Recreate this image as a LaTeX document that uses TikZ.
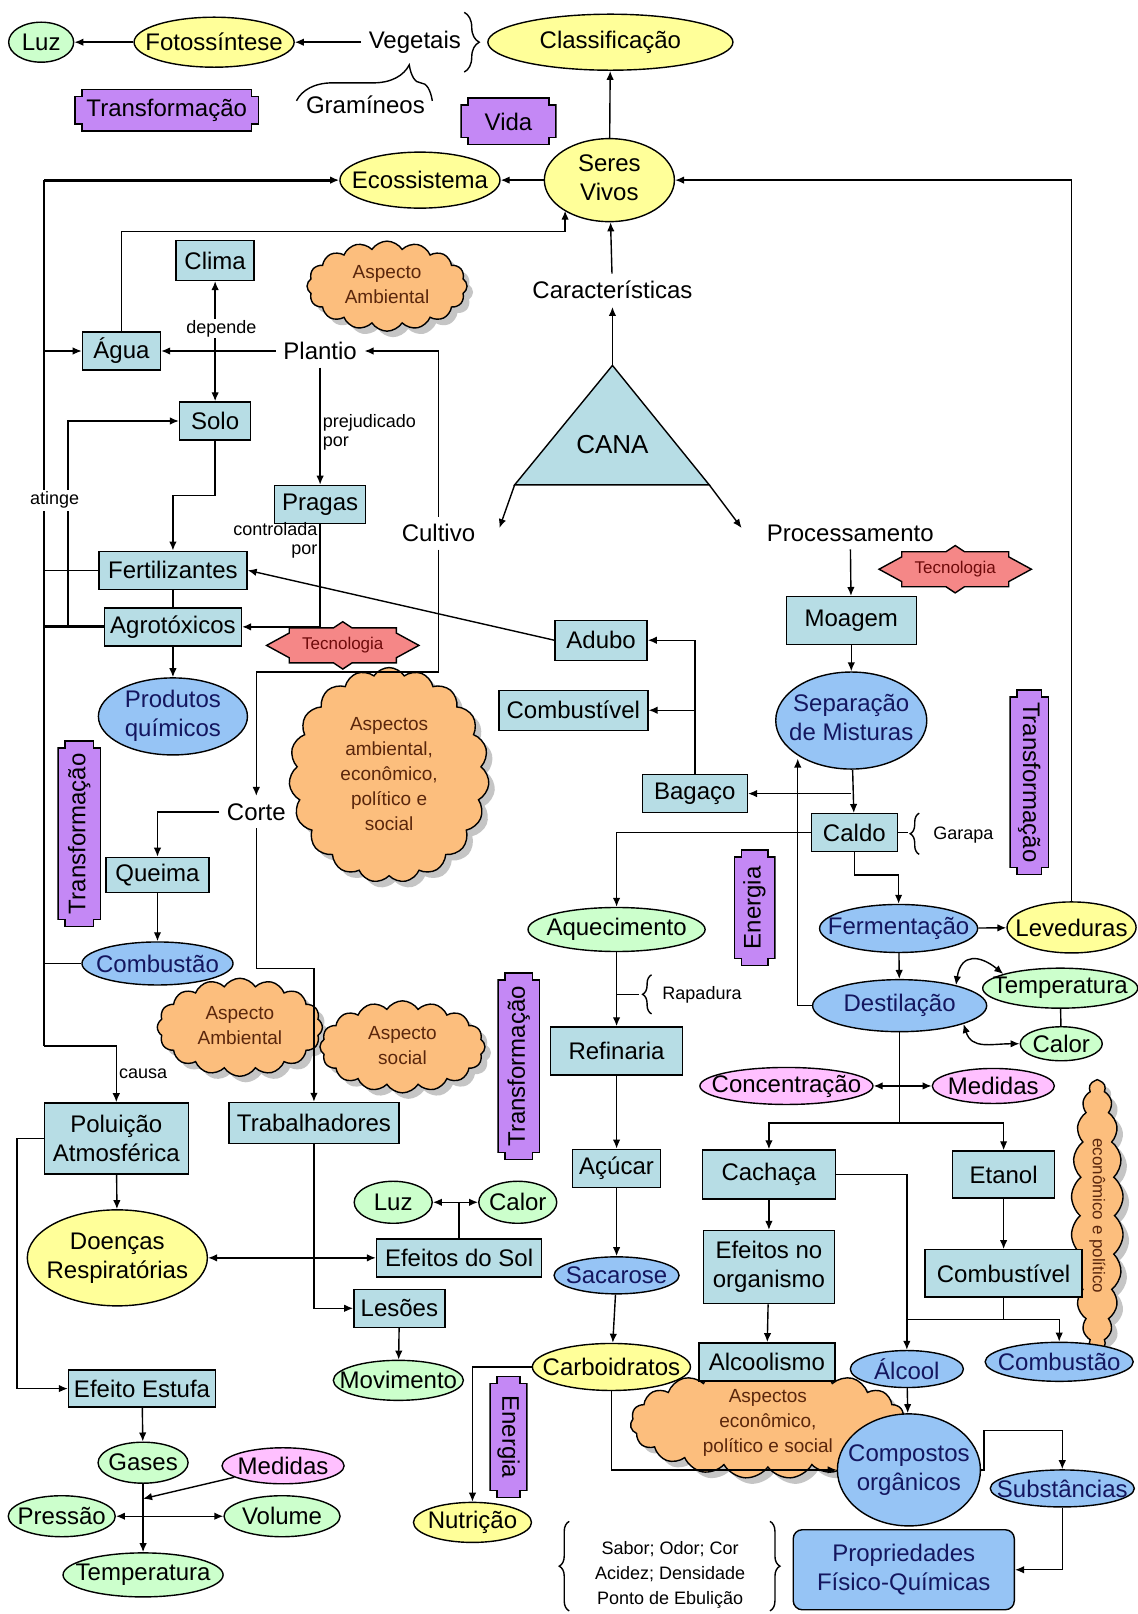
\documentclass[tikz,border=0pt]{standalone}
\usepackage{fontspec}
\usepackage{graphicx}
\setmainfont{Liberation Sans}
\usetikzlibrary{shapes.geometric, shapes.symbols, shadows, arrows.meta, decorations.pathreplacing, calc}

\definecolor{azulcx}{RGB}{183,221,229}
\definecolor{amar}{RGB}{255,255,153}
\definecolor{verd}{RGB}{204,255,204}
\definecolor{azul}{RGB}{150,196,245}
\definecolor{rosa}{RGB}{255,192,255}
\definecolor{roxo}{RGB}{196,136,245}
\definecolor{salmao}{RGB}{245,135,135}
\definecolor{laranja}{RGB}{252,190,125}
\definecolor{marrom}{RGB}{90,38,12}
\definecolor{navy}{RGB}{20,22,95}
\definecolor{vinho}{RGB}{110,10,10}

% texto sem tamanho (a forma usa so minimum width/height)
\newcommand{\zr}[1]{\hbox to 0pt{\hss\vbox to 0pt{\vss\hbox{#1}\vss}\hss}}
\newcommand{\linhas}[1]{\begin{tabular}{@{}c@{}}#1\end{tabular}}
\newcommand{\tecno}[2]{%
  \filldraw[fill=salmao, shift={#2}] (-74,0) -- (-52,-12) -- (-52,-17) -- (-9,-17) -- (0,-23) -- (9,-17) -- (52,-17) -- (52,-12) -- (74,0) -- (52,12) -- (52,17) -- (9,17) -- (0,23) -- (-9,17) -- (-52,17) -- (-52,12) -- cycle;
  \node[tectexto] (#1) at #2 {Tecnologia};}

\begin{document}
\begin{tikzpicture}[x=1.029pt, y=-1.029pt, line width=1.4pt,
  >={Latex[length=9pt,width=7.5pt]},
  every node/.style={font=\fontsize{24}{29}\selectfont},
  caixa/.style={rectangle, draw, fill=azulcx, minimum height=38pt, inner xsep=4pt},
  oval/.style={ellipse, draw, inner sep=0pt},
  ovam/.style={oval, fill=amar},
  ovve/.style={oval, fill=verd},
  ovaz/.style={oval, fill=azul, text=navy},
  ovro/.style={oval, fill=rosa},
  palavra/.style={inner sep=7pt},
  rotulo/.style={font=\fontsize{18}{19}\selectfont, inner sep=2pt},
  tectexto/.style={font=\fontsize{17}{19}\selectfont, text=vinho, inner sep=1pt},
  chave/.style={decorate, decoration={brace, amplitude=#1}},
  chave/.default=9pt,
  nuvem/.style={cloud, cloud puffs=16, cloud puff arc=115, cloud ignores aspect, draw, fill=laranja, inner sep=0pt,
    text=marrom, font=\fontsize{19}{25}\selectfont,
    drop shadow={shadow xshift=6pt, shadow yshift=-6pt, fill=black!45}},
  placa/.style={rectangle, inner sep=0pt, path picture={
    \path (path picture bounding box.south west) coordinate (pa) (path picture bounding box.north east) coordinate (pb);
    \filldraw[fill=roxo] let \p1=(pa), \p2=(pb) in
      (\x1+7.7pt,\y1+.7pt) -- (\x2-7.7pt,\y1+.7pt) -- (\x2-7.7pt,\y1+7.7pt) -- (\x2-.7pt,\y1+7.7pt)
      -- (\x2-.7pt,\y2-7.7pt) -- (\x2-7.7pt,\y2-7.7pt) -- (\x2-7.7pt,\y2-.7pt) -- (\x1+7.7pt,\y2-.7pt)
      -- (\x1+7.7pt,\y2-7.7pt) -- (\x1+.7pt,\y2-7.7pt) -- (\x1+.7pt,\y1+7.7pt) -- (\x1+7.7pt,\y1+7.7pt) -- cycle;}}]

\useasboundingbox (0,0) rectangle (1105,1568);
\fill[white] (0,0) rectangle (1105,1568);

% nuvens (atras das linhas)
\node[nuvem, minimum width=160pt, minimum height=90pt] (nuv1) at (376,278) {\zr{\linhas{Aspecto\\Ambiental}}};
\node[nuvem, cloud puffs=19, minimum width=200pt, minimum height=215pt] (nuv2) at (378,753) {\zr{\linhas{Aspectos\\ambiental,\\econômico,\\político e\\social}}};
\node[nuvem, minimum width=165pt, minimum height=98pt] (nuv3) at (233,998) {\zr{\linhas{Aspecto\\Ambiental}}};
\node[nuvem, minimum width=165pt, minimum height=92pt] (nuv4) at (391,1017) {\zr{\linhas{Aspecto\\social}}};
\node[nuvem, cloud puffs=19, minimum width=275pt, minimum height=112pt] (nuv5) at (746,1382) {\zr{\linhas{Aspectos\\econômico,\\político e social}}};
\node[nuvem, cloud puffs=22, cloud puff arc=100, minimum width=52pt, minimum height=272pt, font=\fontsize{17}{20}\selectfont] (nuv6) at (1066,1181) {\zr{\rotatebox{-90}{econômico e político}}};

% CANA
\coordinate (apex) at (595,355);
\coordinate (bl) at (500,471);
\coordinate (br) at (689,471);
\filldraw[fill=azulcx] (apex) -- (br) -- (bl) -- cycle;
\node[font=\fontsize{26}{30}\selectfont] (cana) at (595,432) {CANA};

% topo
\node[ovve, minimum width=65pt, minimum height=40pt] (luz1) at (40,41) {\zr{Luz}};
\node[ovam, minimum width=160pt, minimum height=50pt] (fotos) at (208,41) {\zr{Fotossíntese}};
\node[palavra] (veget) at (403,41) {Vegetais};
\node[ovam, minimum width=245pt, minimum height=56pt] (classif) at (593,41) {\zr{Classificação}};
\node[inner sep=2pt] (gram) at (355,102) {Gramíneos};
\node[placa, minimum width=185pt, minimum height=43pt] (transf1) at (162,107) {Transformação};
\node[placa, minimum width=96pt, minimum height=48pt] (vida) at (494,118) {Vida};
\node[ovam, minimum width=160pt, minimum height=56pt] (ecos) at (408,175) {\zr{Ecossistema}};
\node[ovam, minimum width=130pt, minimum height=83pt] (seres) at (592,175) {\zr{\linhas{Seres\\Vivos}}};
\node[palavra] (caract) at (595,282) {Características};

% cultivo
\node[caixa, minimum width=78pt, minimum height=40pt] (clima) at (209,253) {Clima};
\node[caixa, minimum width=78pt] (agua) at (118,341) {Água};
\node[palavra] (plantio) at (311,341) {Plantio};
\node[caixa, minimum width=71pt] (solo) at (209,409) {Solo};
\node[caixa, minimum width=91pt] (pragas) at (311,490) {Pragas};
\node[caixa, minimum width=148pt] (fert) at (168,554) {Fertilizantes};
\node[caixa, minimum width=137pt] (agro) at (168,609) {Agrotóxicos};
\tecno{tec1}{(333,627)}
\node[ovaz, minimum width=149pt, minimum height=77pt] (prod) at (168,696) {\zr{\linhas{Produtos\\químicos}}};
\node[palavra] (cultivo) at (426,518) {Cultivo};
\node[placa, minimum width=44pt, minimum height=187pt] (transf2) at (77,810) {\rotatebox{90}{Transformação}};
\node[palavra] (corte) at (249,789) {Corte};
\node[caixa, minimum width=103pt, minimum height=35pt] (queima) at (153,850) {Queima};
\node[ovaz, minimum width=151pt, minimum height=43pt] (comb1) at (153,936) {\zr{Combustão}};
\node[placa, minimum width=43pt, minimum height=188pt] (transf3) at (504,1036) {\rotatebox{90}{Transformação}};
\node[caixa, minimum width=144pt, minimum height=71pt, align=center] (polu) at (113,1106) {Poluição\\Atmosférica};
\node[caixa, minimum width=170pt, minimum height=41pt] (trab) at (305,1091) {Trabalhadores};
\node[ovam, minimum width=180pt, minimum height=96pt] (doencas) at (114,1222) {\zr{\linhas{Doenças\\Respiratórias}}};
\node[ovve, minimum width=78pt, minimum height=42pt] (luz2) at (382,1168) {\zr{Luz}};
\node[ovve, minimum width=78pt, minimum height=42pt] (calor2) at (503,1168) {\zr{Calor}};
\node[caixa, minimum width=165pt] (efsol) at (446,1222) {Efeitos do Sol};
\node[caixa, minimum width=91pt] (lesoes) at (388,1271) {Lesões};
\node[ovve, minimum width=130pt, minimum height=40pt] (movim) at (387,1341) {\zr{Movimento}};
\node[caixa, minimum width=147pt, minimum height=37pt] (estufa) at (138,1349) {Efeito Estufa};
\node[ovve, minimum width=90pt, minimum height=41pt] (gases) at (139,1421) {\zr{Gases}};
\node[ovro, minimum width=122pt, minimum height=36pt] (med1) at (275,1424) {\zr{Medidas}};
\node[ovve, minimum width=107pt, minimum height=41pt] (pressao) at (60,1473) {\zr{Pressão}};
\node[ovve, minimum width=116pt, minimum height=41pt] (volume) at (274,1473) {\zr{Volume}};
\node[ovve, minimum width=160pt, minimum height=44pt] (temp1) at (139,1530) {\zr{Temperatura}};

% processamento
\node[palavra] (proc) at (826,518) {Processamento};
\tecno{tec2}{(928,553)}
\node[caixa, minimum width=92pt, minimum height=40pt] (adubo) at (584,622) {Adubo};
\node[caixa, minimum width=149pt, minimum height=40pt] (combl) at (557,690) {Combustível};
\node[caixa, minimum width=105pt] (bagaco) at (675,771) {Bagaço};
\node[caixa, minimum width=130pt, minimum height=48pt] (moagem) at (827,603) {Moagem};
\node[ovaz, minimum width=151pt, minimum height=97pt] (sep) at (827,700) {\zr{\linhas{Separação\\de Misturas}}};
\node[placa, minimum width=40pt, minimum height=186pt] (transf4) at (1000,760) {\rotatebox{-90}{Transformação}};
\node[caixa, minimum width=86pt] (caldo) at (830,809) {Caldo};
\node[rotulo] (garapa) at (936,811) {Garapa};
\node[placa, minimum width=42pt, minimum height=117pt] (energ1) at (733,882) {\rotatebox{90}{Energia}};
\node[ovve, minimum width=177pt, minimum height=44pt] (aquec) at (599,903) {\zr{Aquecimento}};
\node[rotulo] (rapad) at (682,966) {Rapadura};
\node[caixa, minimum width=132pt, minimum height=48pt] (refin) at (599,1021) {Refinaria};
\node[caixa, minimum width=88pt] (acucar) at (599,1135) {Açúcar};
\node[ovaz, minimum width=125pt, minimum height=37pt] (sacar) at (599,1239) {\zr{Sacarose}};
\node[ovam, minimum width=158pt, minimum height=47pt] (carb) at (594,1328) {\zr{Carboidratos}};
\node[placa, minimum width=38pt, minimum height=122pt] (energ2) at (494,1396) {\rotatebox{-90}{Energia}};
\node[ovam, minimum width=118pt, minimum height=40pt] (nutri) at (459,1479) {\zr{Nutrição}};
\node[ovaz, minimum width=158pt, minimum height=48pt] (ferm) at (873,902) {\zr{Fermentação}};
\node[ovam, minimum width=129pt, minimum height=51pt] (lev) at (1041,901) {\zr{Leveduras}};
\node[ovaz, minimum width=174pt, minimum height=52pt] (dest) at (874,977) {\zr{Destilação}};
\node[ovve, minimum width=155pt, minimum height=40pt] (temp2) at (1030,960) {\zr{Temperatura}};
\node[ovve, minimum width=82pt, minimum height=34pt] (calor1) at (1031,1014) {\zr{Calor}};
\node[ovro, minimum width=173pt, minimum height=37pt] (conc) at (764,1055) {\zr{Concentração}};
\node[ovro, minimum width=122pt, minimum height=35pt] (med2) at (965,1055) {\zr{Medidas}};
\node[caixa, minimum width=133pt, minimum height=49pt] (cach) at (747,1141) {Cachaça};
\node[caixa, minimum width=102pt, minimum height=47pt] (etanol) at (975,1141) {Etanol};
\node[caixa, minimum width=131pt, minimum height=73pt, align=center] (efeitos) at (747,1231) {Efeitos no\\organismo};
\node[caixa, minimum width=157pt, minimum height=47pt] (combr) at (975,1237) {Combustível};
\node[caixa, minimum width=136pt] (alcool1) at (745,1323) {Alcoolismo};
\node[ovaz, minimum width=113pt, minimum height=37pt] (alcool) at (881,1330) {\zr{Álcool}};
\node[ovaz, minimum width=148pt, minimum height=39pt] (comb2) at (1029,1323) {\zr{Combustão}};
\node[ovaz, minimum width=143pt, minimum height=112pt] (comp) at (883,1428) {\zr{\linhas{Compostos\\orgânicos}}};
\node[ovaz, minimum width=144pt, minimum height=37pt] (subst) at (1032,1446) {\zr{Substâncias}};
\node[caixa, fill=azul, text=navy, rounded corners=9pt, minimum width=221pt, minimum height=80pt, align=center] (prop) at (878,1525) {Propriedades\\Físico-Químicas};
\node[rotulo, font=\fontsize{18}{25}\selectfont, align=center] (sabor) at (651,1530) {Sabor; Odor; Cor\\Acidez; Densidade\\Ponto de Ebulição};

% ligacoes do topo
\draw[->] (fotos) -- (luz1);
\draw[->] (veget) -- (fotos);
\draw[chave=15pt] (451,12) -- (451,70);
\draw[decorate, decoration={brace, amplitude=36pt, aspect=.83}] (288,98) -- (420,98);
\draw[->] (seres) -- (classif);
\draw[->] (seres) -- (ecos);
\draw[->] (caract) -- (seres);
\draw[->] (apex) -- (caract);
\draw[->] (lev.north) |- (seres.east);
\draw[->] (bl) -- ([shift={(16,-5)}]cultivo.east);
\draw[->] (br) -- ([shift={(-17,-5)}]proc.west);

% barramento da esquerda
\coordinate (bus) at (43,175);
\coordinate (busfim) at (43,1016);
\coordinate (bus2) at (66,609);
\draw[line width=1.6pt] (busfim) -- (bus);
\draw[->, line width=2.8pt] (bus) -- (ecos.west);
\draw[->] (bus |- agua) -- (agua);
\draw (bus |- fert) -- (fert);
\draw[line width=2.8pt] (bus |- agro) -- (agro);
\draw (bus |- comb1) -- (comb1);
\draw[->] (busfim) -| (polu.north) node[pos=.75, anchor=west, rotulo] {causa};
\draw[->] (bus2) |- (solo);
\node[rotulo, fill=white] (atinge) at (53,486) {atinge};
\coordinate (sv) at (549,225);
\draw[->] (agua.north) |- (sv) -- (sv |- seres.214);

% plantio
\draw[->] (plantio) -- (agua);
\coordinate (dep) at (209,341);
\draw[->] (dep) -- (clima);
\draw[->] (dep) -- (solo);
\node[rotulo, fill=white, inner sep=1pt] (depende) at (215,319) {depende};
\draw[->] (plantio) -- (pragas) node[pos=.55, anchor=west, rotulo, align=left] {prejudicado\\por};
\draw[->] (pragas.south) |- (agro.east) node[pos=.08, anchor=east, rotulo, align=right] {controlada\\por};
\draw[->] (solo.south) -- ++(0,53) -| (fert.north);
\draw (fert) -- (agro);
\draw[->] (agro) -- (prod);
\draw[->] (adubo.west) -- (fert.east);
\draw[->] (cultivo.north) |- (plantio.east);
\coordinate (cc) at (249,653);
\draw[->] (cultivo.south) |- (cc) -- (corte.north);

% corte
\draw[->] (corte.west) -| (queima.north);
\draw[->] (queima) -- (comb1);
\coordinate (ct) at (249,941);
\draw[->] (corte.south) -- (ct) -| (trab.north);
\draw[->] (polu) -- (doencas);
\draw[->] (polu.west) -- ++(-26,0) |- (estufa.west);
\draw[->] (estufa) -- (gases);
\draw[->] (gases) -- (temp1);
\draw[<->] (pressao) -- (volume);
\coordinate (gm) at (139,1456);
\draw[->] (med1) -- (gm);
\draw[->] (trab.south) |- (lesoes.west);
\coordinate (tj) at (305,1222);
\draw[->] (tj) -- (efsol.west);
\draw[->] (tj) -- (doencas.east);
\coordinate (lc) at (446,1168);
\draw (efsol.north) -- (lc);
\draw[->] (lc) -- (luz2);
\draw[->] (lc) -- (calor2);
\draw[->] (lesoes) -- (movim);

% processamento
\draw[->] (proc) -- (moagem);
\draw[->] (moagem) -- (sep);
\draw[->] (sep) -- (caldo);
\draw[->] (sep.south |- bagaco) -- (bagaco);
\draw[->] (bagaco.north) |- (adubo.east);
\draw[->] (bagaco.north) |- (combl.east);
\draw (caldo.east) -- ++(10,0);
\draw[chave] (893,830) -- (893,790);
\draw[->] (caldo.west) -| (aquec.north);
\draw[->] (caldo.south) -- ++(0,22) -| (ferm.north);
\draw[->] (aquec) -- (refin);
\coordinate (rap) at (599,966);
\draw (rap) -- ++(22,0);
\draw[chave] (633,985) -- (633,947);
\draw[->] (refin) -- (acucar);
\draw[->] (acucar) -- (sacar);
\draw[->] (sacar) -- (carb);
\draw[->] (carb.west) -| (nutri.north);
\draw[->] (carb.south) |- (comp.west);
\draw[->] (ferm) -- (lev);
\draw[->] (ferm) -- (dest);
\coordinate (sepin) at (775,737);
\draw[->] (dest.west) -| (sepin);
\draw[<->] (dest.20) .. controls +(5,-32) and +(-22,-18) .. (temp2.166);
\draw[<->] (dest.344) .. controls +(8,25) and +(-28,0) .. (calor1.west);
\draw (temp2) -- (calor1);
\coordinate (dj) at (874,1091);
\draw (dest) -- (dj);
\draw[->] (dj) -| (cach.north);
\draw[->] (dj) -| (etanol.north);
\draw[<->] (conc) -- (med2);
\draw[->] (cach) -- (efeitos);
\draw[->] (efeitos) -- (alcool1);
\draw[->] (cach.east) -| (alcool.north);
\draw[->] (etanol) -- (combr);
\coordinate (cj) at (975,1282);
\draw (combr) -- (cj);
\draw[->] (cj) -| (comb2.north);
\draw (cj) -- (alcool.north |- cj);
\draw[->] (alcool) -- (comp);
\coordinate (cs) at (956,1390);
\draw[->] (comp.east) -| (cs) -| (subst.north);
\draw[->] (subst.south) |- (prop.east);
\draw[chave=10pt] (553,1565) -- (553,1478);
\draw[chave=10pt] (748,1478) -- (748,1565);
\end{tikzpicture}
\end{document}
